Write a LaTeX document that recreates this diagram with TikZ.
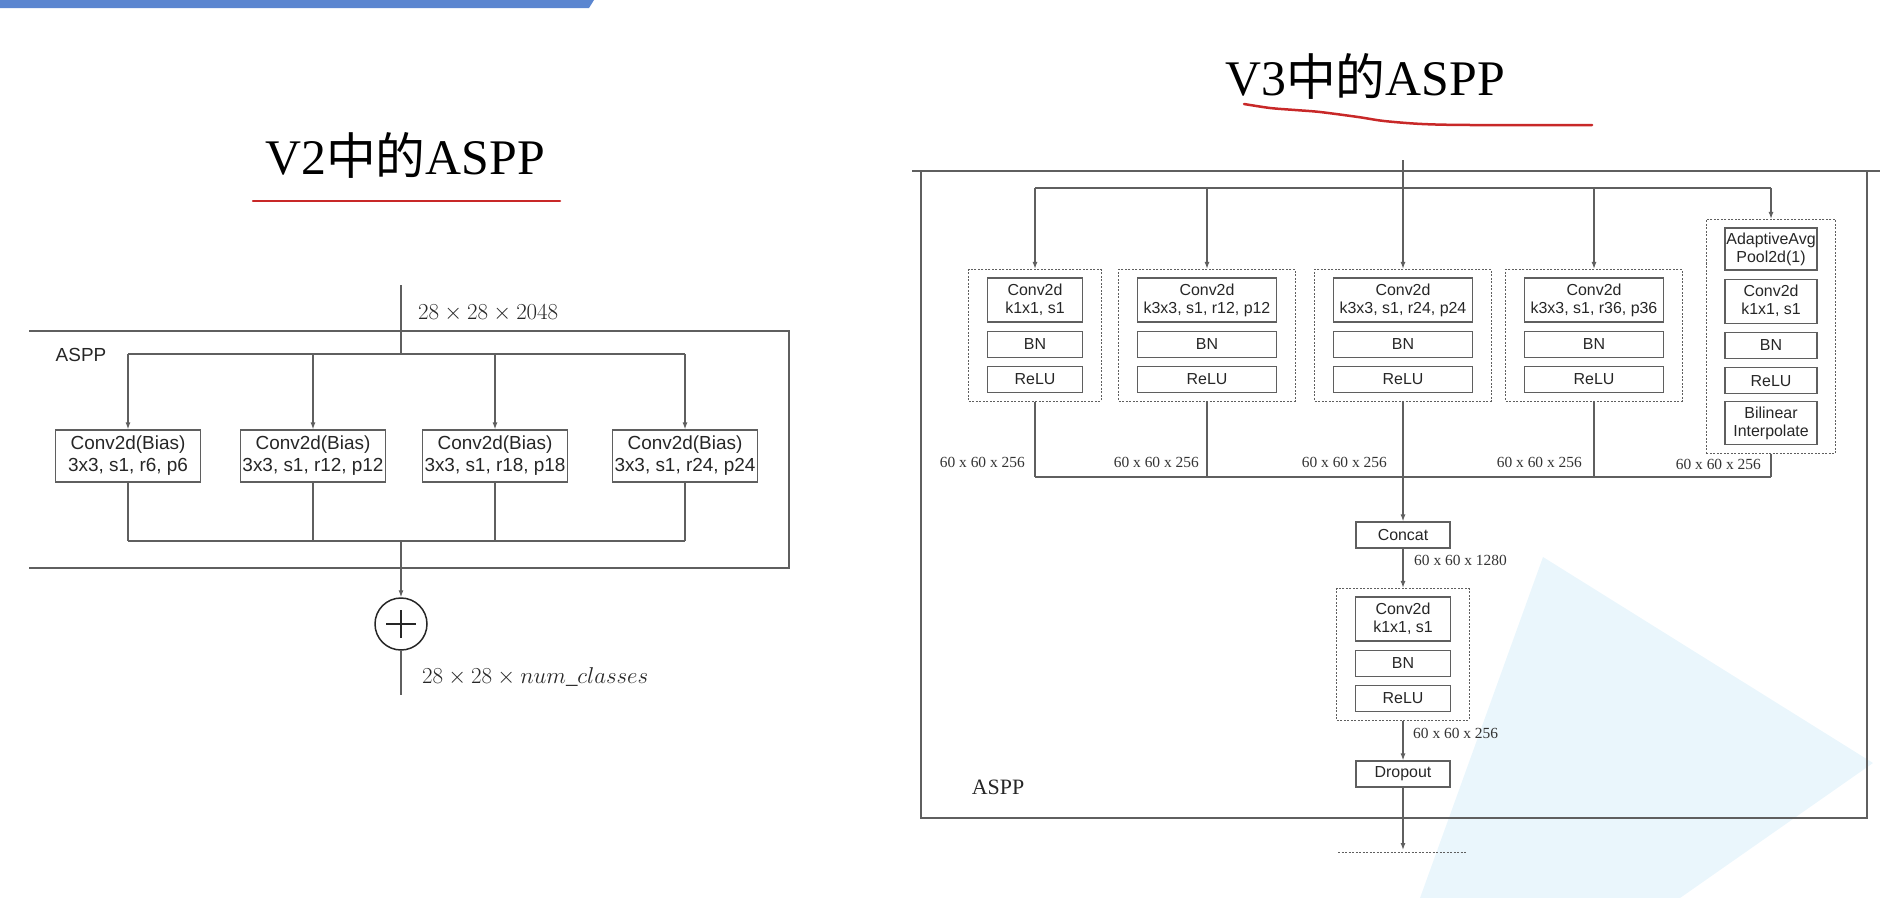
\RequirePackage{fix-cm}
\documentclass[tikz,border=0pt]{standalone}
\usepackage{fontspec}
\setmainfont{Liberation Serif}
\newfontfamily\arial{Liberation Sans}
\newfontfamily\cjk{Noto Sans CJK SC}
\usetikzlibrary{positioning,fit,arrows.meta}
\definecolor{azulbarra}{RGB}{91,134,208}
\definecolor{azulmarca}{RGB}{234,246,252}
\definecolor{rojo}{RGB}{200,40,40}
\definecolor{gris}{RGB}{95,95,95}

\begin{document}
\begin{tikzpicture}[x=1bp, y=-1bp,
        linea/.style = {draw=gris, line width=1.2bp},
        flecha/.style = {linea, -{Latex[length=7bp,width=5bp]}},
        marco/.style = {draw=gris, line width=1.6bp},
        caja/.style = {draw=gris, line width=1.2bp, rectangle, align=center, inner sep=0pt, text=black!85,
            font=\arial\fontsize{19}{22}\selectfont, minimum width=145bp, minimum height=52bp},
        cajita/.style = {draw=gris, line width=1.2bp, rectangle, align=center, inner sep=0pt, text=black!85,
            font=\arial\fontsize{16}{18}\selectfont, minimum height=26bp},
        punteada/.style = {draw=gris, line width=1bp, dash pattern=on 2bp off 1.5bp, inner xsep=18bp, inner ysep=8bp},
        medida/.style = {font=\fontsize{15.5}{18}\selectfont, text=black!80, inner sep=0pt},
        formula/.style = {font=\fontsize{23}{27}\selectfont, text=black!85, inner sep=0pt},
        titulo/.style = {font=\fontsize{50}{60}\selectfont, inner sep=0pt},
        subrayado/.style = {draw=rojo, line width=2.5bp, line cap=round},
        circulo/.style = {draw=black!85, circle, line width=1.5bp, minimum size=52bp, inner sep=0pt}]
        \useasboundingbox (0,0) rectangle (1898,898);

        % decoracion de la diapositiva
        \fill[azulmarca] (1543,557) -- (1873,763) -- (1680,898) -- (1420,898) -- cycle;
        \fill[azulbarra] (0,0) -- (594,0) -- (589,8) -- (0,8) -- cycle;

        % ASPP de V2
        \node[titulo] (t2) at (405,155) {V2{\cjk 中的}ASPP};
        \draw[subrayado] (253,201) -- (560,201);

        \coordinate (e2) at (401,285);
        \coordinate (d2) at (401,354);
        \coordinate (j2) at (401,541);
        \coordinate (s2) at (401,695);
        \node[formula, anchor=west] (m1) at (418,313) {$28\times 28\times 2048$};
        \draw[marco] (29,331) -- (789,331) -- (789,568) -- (29,568);
        \node[font=\arial\fontsize{19}{22}\selectfont, text=black!85, inner sep=0pt] (a2) at (81,355) {ASPP};

        \node[caja] (1) at (128,456) {Conv2d(Bias)\\3x3, s1, r6, p6};
        \node[caja] (2) at (313,456) {Conv2d(Bias)\\3x3, s1, r12, p12};
        \node[caja] (3) at (495,456) {Conv2d(Bias)\\3x3, s1, r18, p18};
        \node[caja] (4) at (685,456) {Conv2d(Bias)\\3x3, s1, r24, p24};
        \node[circulo] (5) at (401,624) {};
        \node[formula, anchor=west] (m2) at (422,677) {$28\times 28\times num\_classes$};

        \draw[linea] (e2) -- (d2);
        \draw[linea] (1 |- d2) -- (4 |- d2);
        \draw[flecha] (1 |- d2) -- (1.north);
        \draw[flecha] (2 |- d2) -- (2.north);
        \draw[flecha] (3 |- d2) -- (3.north);
        \draw[flecha] (4 |- d2) -- (4.north);
        \draw[linea] (1.south) -- (1 |- j2);
        \draw[linea] (2.south) -- (2 |- j2);
        \draw[linea] (3.south) -- (3 |- j2);
        \draw[linea] (4.south) -- (4 |- j2);
        \draw[linea] (1 |- j2) -- (4 |- j2);
        \draw[flecha] (j2) -- (5.north);
        \draw[linea] (5.south) -- (s2);
        \draw[black!85, line width=1.3bp] ([xshift=-15bp]5.center) -- ([xshift=15bp]5.center);
        \draw[black!85, line width=1.3bp] ([yshift=-14bp]5.center) -- ([yshift=14bp]5.center);

        % ASPP de V3
        \node[titulo] (t3) at (1365,76) {V3{\cjk 中的}ASPP};
        \draw[subrayado] plot[smooth] coordinates {(1244,104) (1270,108) (1295,110) (1320,112) (1358,117)
            (1384,121) (1422,124) (1470,125) (1592,125)};

        \draw[marco] (912,171) -- (1880,171);
        \draw[marco] (921,171) -- (921,818) -- (1867,818) -- (1867,171);
        \node[font=\fontsize{22}{26}\selectfont, text=black!85, inner sep=0pt] (a3) at (998,787) {ASPP};

        \node[cajita, minimum width=95bp, minimum height=44bp] (6) at (1035,300) {Conv2d\\k1x1, s1};
        \node[cajita, minimum width=95bp] (7) [below=8bp of 6] {BN};
        \node[cajita, minimum width=95bp] (8) [below=8bp of 7] {ReLU};
        \node[punteada, fit=(6)(8)] (g1) {};

        \node[cajita, minimum width=139bp, minimum height=44bp] (9) at (1207,300) {Conv2d\\k3x3, s1, r12, p12};
        \node[cajita, minimum width=139bp] (10) [below=8bp of 9] {BN};
        \node[cajita, minimum width=139bp] (11) [below=8bp of 10] {ReLU};
        \node[punteada, fit=(9)(11)] (g2) {};

        \node[cajita, minimum width=139bp, minimum height=44bp] (12) at (1403,300) {Conv2d\\k3x3, s1, r24, p24};
        \node[cajita, minimum width=139bp] (13) [below=8bp of 12] {BN};
        \node[cajita, minimum width=139bp] (14) [below=8bp of 13] {ReLU};
        \node[punteada, fit=(12)(14)] (g3) {};

        \node[cajita, minimum width=139bp, minimum height=44bp] (15) at (1594,300) {Conv2d\\k3x3, s1, r36, p36};
        \node[cajita, minimum width=139bp] (16) [below=8bp of 15] {BN};
        \node[cajita, minimum width=139bp] (17) [below=8bp of 16] {ReLU};
        \node[punteada, fit=(15)(17)] (g4) {};

        \node[cajita, minimum width=92bp, minimum height=42bp] (18) at (1771,249) {AdaptiveAvg\\Pool2d(1)};
        \node[cajita, minimum width=92bp, minimum height=44bp] (19) [below=8bp of 18] {Conv2d\\k1x1, s1};
        \node[cajita, minimum width=92bp] (20) [below=8bp of 19] {BN};
        \node[cajita, minimum width=92bp] (21) [below=8bp of 20] {ReLU};
        \node[cajita, minimum width=92bp, minimum height=43bp] (22) [below=7bp of 21] {Bilinear\\Interpolate};
        \node[punteada, fit=(18)(22)] (g5) {};

        \node[cajita, minimum width=94bp] (23) at (1403,535) {Concat};
        \node[cajita, minimum width=95bp, minimum height=44bp] (24) at (1403,619) {Conv2d\\k1x1, s1};
        \node[cajita, minimum width=95bp] (25) [below=8bp of 24] {BN};
        \node[cajita, minimum width=95bp] (26) [below=8bp of 25] {ReLU};
        \node[punteada, fit=(24)(26)] (g6) {};
        \node[cajita, minimum width=94bp] (27) at (1403,774) {Dropout};

        \node[medida, anchor=east] (m3) at (1025,462) {60 x 60 x 256};
        \node[medida, anchor=east] (m4) at (1199,462) {60 x 60 x 256};
        \node[medida, anchor=east] (m5) at (1387,462) {60 x 60 x 256};
        \node[medida, anchor=east] (m6) at (1582,462) {60 x 60 x 256};
        \node[medida, anchor=east] (m7) at (1761,464) {60 x 60 x 256};
        \node[medida, anchor=west] (m8) at (1414,560) {60 x 60 x 1280};
        \node[medida, anchor=west] (m9) at (1413,733) {60 x 60 x 256};

        \coordinate (e3) at (1403,160);
        \coordinate (d3) at (1403,188);
        \coordinate (j3) at (1403,477);
        \coordinate (s3) at (1403,850);

        \draw[linea] (g1 |- d3) -- (g5 |- d3);
        \draw[flecha] (g1 |- d3) -- (g1.north);
        \draw[flecha] (g2 |- d3) -- (g2.north);
        \draw[flecha] (e3) -- (g3.north);
        \draw[flecha] (g4 |- d3) -- (g4.north);
        \draw[flecha] (g5 |- d3) -- (g5.north);

        \draw[linea] (g1.south) -- (g1 |- j3);
        \draw[linea] (g2.south) -- (g2 |- j3);
        \draw[linea] (g4.south) -- (g4 |- j3);
        \draw[linea] (g5.south) -- (g5 |- j3);
        \draw[linea] (g1 |- j3) -- (g5 |- j3);
        \draw[flecha] (g3.south) -- (23.north);
        \draw[flecha] (23.south) -- (g6.north);
        \draw[flecha] (g6.south) -- (27.north);
        \draw[flecha] (27.south) -- (s3);
        \draw[gris, line width=1bp, dash pattern=on 2bp off 1.5bp] (1338,852) -- (1467,852);
    \end{tikzpicture}
\end{document}
